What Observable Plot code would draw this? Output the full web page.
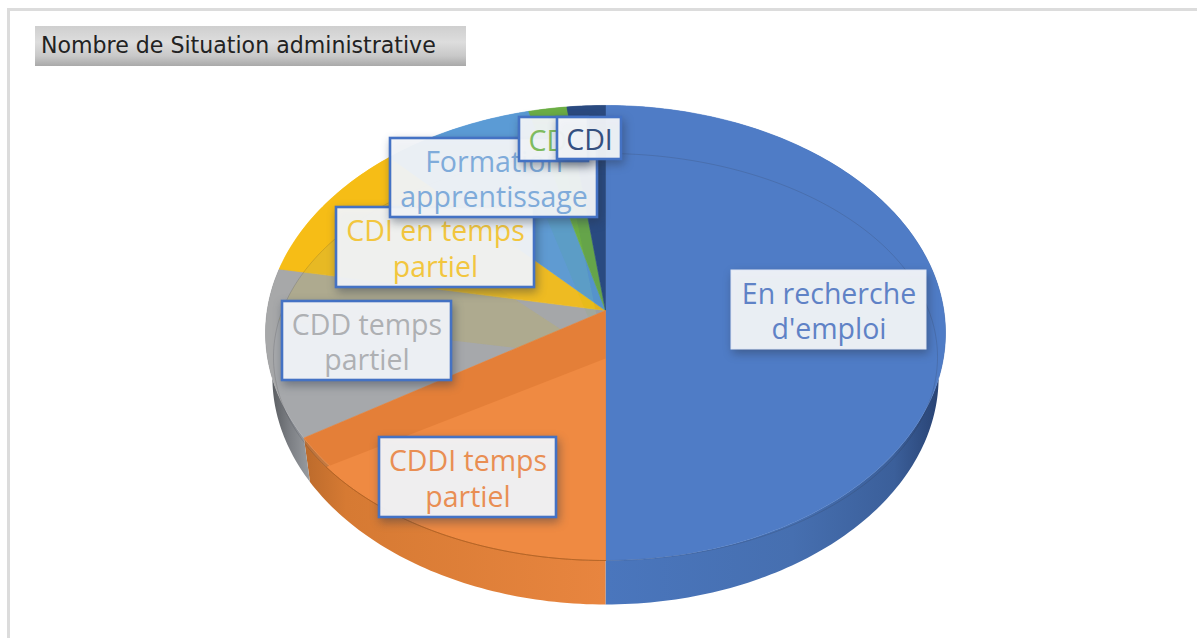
<!DOCTYPE html>
<html lang="fr">
<head>
<meta charset="utf-8">
<script src="https://cdn.jsdelivr.net/npm/d3@7"></script>
<script src="https://cdn.jsdelivr.net/npm/@observablehq/plot@0.6"></script>
<style>
  html, body { margin: 0; padding: 0; background: #fff; }
  #page { position: relative; width: 1197px; height: 638px; overflow: hidden; }
  #frame { position: absolute; left: 7px; top: 8px; right: -5px; bottom: -5px; border-top: 3px solid #dcdcdc; border-left: 3px solid #dcdcdc; }
  #title { position: absolute; left: 35px; top: 26px; width: 431px; height: 40px; box-sizing: border-box; padding-left: 6px;
    font: 22.1px/39px "DejaVu Sans", Verdana, sans-serif; color: #222; white-space: nowrap;
    background: linear-gradient(#cfcfcf 0%, #dddddd 40%, #c8c8c8 75%, #a9a9a9 100%); }
  #chart { position: absolute; left: 0; top: 0; }
</style>
</head>
<body>
<div id="page">
  <div id="chart"></div>
  <div id="frame"></div>
  <div id="title">Nombre de Situation administrative</div>
</div>
<script>
// ---- Data ----
const categories = ["En recherche d'emploi", "CDDI temps partiel", "CDD temps partiel", "CDI en temps partiel", "Formation apprentissage", "CD", "CDI"];
const values = [50, 16, 12, 10, 8, 2, 2];
const labelLines = [["En recherche", "d'emploi"], ["CDDI temps", "partiel"], ["CDD temps", "partiel"], ["CDI en temps", "partiel"], ["Formation", "apprentissage"], ["CD"], ["CDI"]];

// ---- Styles ----
const sliceColors = ["#4f7cc6", "#e47f38", "#a7a8a9", "#f6bd16", "#5b9bd5", "#6cae45", "#2a4a80"];
const bevelColors = [null, "#ef8a42", "#a4abbd", "#c2b04a", "#9aa8b8", "#6cae45", "#2a4a80"];
const bevelOpacity = [0, 1, 0.12, 0.28, 0.08, 0.1, 0.1];
const textColors = ["#5f82c6", "#e98e53", "#aeb0b3", "#f2c63e", "#7fabda", "#7fbb5f", "#35507f"];

// ---- Layout: perspective views of the pie, and label boxes (page pixels) ----
const WIDTH = 1197, HEIGHT = 638;
const faceView  = {cx: 605, cy: 310, a: 225.3, b: 338.3, k: 0.0988, dy: 0};
const innerView = {cx: 605, cy: 358, a: 203.5, b: 332, k: -0.0074, dy: 0};
const baseView  = {cx: 605, cy: 310, a: 225.3, b: 331.5, k: 0.0988, dy: 44};
const labelBoxes = [
  {x1: 731, x2: 926, y1: 270, y2: 349, stroke: "#dfe6f4", width: 1},
  {x1: 379, x2: 556, y1: 437, y2: 517},
  {x1: 282, x2: 451, y1: 301, y2: 380},
  {x1: 336, x2: 534, y1: 207, y2: 287},
  {x1: 390, x2: 597, y1: 138, y2: 217},
  {x1: 519, x2: 588, y1: 117, y2: 161},
  {x1: 557, x2: 621, y1: 117, y2: 159}
];

// ---- Geometry derived from the values ----
const total = d3.sum(values);
const project = (view, theta) => {
  const u = Math.sin(theta), v = Math.cos(theta), w = 1 + view.k * v;
  return {x: view.cx + view.b * u / w, y: view.cy - view.a * v / w + view.dy};
};
const arcAngles = (t0, t1) => {
  const n = Math.max(2, Math.ceil((t1 - t0) / (Math.PI / 180)));
  return d3.range(n + 1).map(i => t0 + (t1 - t0) * i / n);
};
let cumulative = 0;
const slices = categories.map((name, i) => {
  const t0 = cumulative / total * 2 * Math.PI;
  cumulative += values[i];
  return {name, i, t0, t1: cumulative / total * 2 * Math.PI};
});
const wedge = (view, s) => [{x: view.cx, y: view.cy}, ...arcAngles(s.t0, s.t1).map(t => project(view, t)), {x: view.cx, y: view.cy}];
const wallShape = s => {
  const angles = arcAngles(s.t0, s.t1);
  return [...angles.map(t => project(faceView, t)), ...angles.slice().reverse().map(t => project(baseView, t))];
};
const rim = view => arcAngles(0, 2 * Math.PI).map(t => project(view, t));
const sliceRim = (view, s) => arcAngles(s.t0, s.t1).map(t => project(view, t));

// ---- Gradients for the side wall ----
const gradients = () => {
  const NS = "http://www.w3.org/2000/svg";
  const defs = document.createElementNS(NS, "defs");
  const add = (id, x1, x2, stops) => {
    const g = document.createElementNS(NS, "linearGradient");
    g.setAttribute("id", id);
    g.setAttribute("gradientUnits", "userSpaceOnUse");
    g.setAttribute("x1", x1); g.setAttribute("x2", x2); g.setAttribute("y1", 0); g.setAttribute("y2", 0);
    for (const [o, c] of stops) {
      const s = document.createElementNS(NS, "stop");
      s.setAttribute("offset", o); s.setAttribute("stop-color", c);
      g.appendChild(s);
    }
    defs.appendChild(g);
  };
  add("wall0", 605, 945, [[0, "#4a76bd"], [0.55, "#466fb0"], [0.85, "#3b5f9a"], [1, "#263f6e"]]);
  add("wall1", 300, 605, [[0, "#b9692b"], [0.15, "#d67a33"], [1, "#e8853f"]]);
  add("wall2", 268, 310, [[0, "#55585c"], [0.5, "#7b7e83"], [1, "#9a9da1"]]);
  return defs;
};
const wallFill = i => i < 3 ? `url(#wall${i})` : sliceColors[i];

const shadow = "drop-shadow(2px 4px 5px rgba(40,50,70,.45))";
const ORANGE = 1;
const faceMark = s => Plot.line(wedge(faceView, s), {x: "x", y: "y", fill: sliceColors[s.i], stroke: sliceColors[s.i], strokeWidth: 0.6, curve: "linear"});
const bevelMark = s => Plot.line(wedge(innerView, s), {x: "x", y: "y", fill: bevelColors[s.i], fillOpacity: bevelOpacity[s.i], stroke: "none", curve: "linear"});

const marks = [
  gradients,
  // side wall
  ...slices.map(s => Plot.line(wallShape(s), {x: "x", y: "y", fill: wallFill(s.i), stroke: "none", curve: "linear"})),
  // upper face, then the translucent bevel; the orange slice sits on top of the others' bevel
  ...slices.filter(s => s.i !== ORANGE).map(faceMark),
  ...slices.filter(s => s.i !== ORANGE && bevelColors[s.i]).map(bevelMark),
  faceMark(slices[ORANGE]),
  bevelMark(slices[ORANGE]),
  Plot.line(rim(innerView), {x: "x", y: "y", stroke: "#2b2a30", strokeOpacity: 0.16, strokeWidth: 1, curve: "linear"}),
  Plot.line(sliceRim(innerView, slices[ORANGE]), {x: "x", y: "y", stroke: "#b2601f", strokeOpacity: 0.8, strokeWidth: 1, curve: "linear"}),
  // labels, in stacking order
  ...slices.flatMap(s => {
    const box = labelBoxes[s.i], lines = labelLines[s.i];
    const cx = (box.x1 + box.x2) / 2, cy = (box.y1 + box.y2) / 2;
    const clipped = s.name === "CD";
    return [
      Plot.rect([box], {x1: "x1", x2: "x2", y1: "y1", y2: "y2", fill: "#f3f5f9", fillOpacity: 0.95,
        stroke: box.stroke ?? "#4472c4", strokeWidth: box.width ?? 2.6, imageFilter: shadow}),
      Plot.text([lines.join("\n")], {x: clipped ? box.x1 + 9 : cx, y: cy, text: d => d, lineHeight: 1.26, frameAnchor: "middle",
        textAnchor: clipped ? "start" : "middle", fontFamily: "'Open Sans', sans-serif", fontSize: 28.5, fill: textColors[s.i]})
    ];
  })
];

document.getElementById("chart").appendChild(Plot.plot({
  width: WIDTH, height: HEIGHT, margin: 0,
  style: {background: "transparent", overflow: "hidden"},
  x: {type: "linear", domain: [0, WIDTH], range: [0, WIDTH], axis: null},
  y: {type: "linear", domain: [0, HEIGHT], range: [0, HEIGHT], axis: null},
  marks
}));
</script>
</body>
</html>
